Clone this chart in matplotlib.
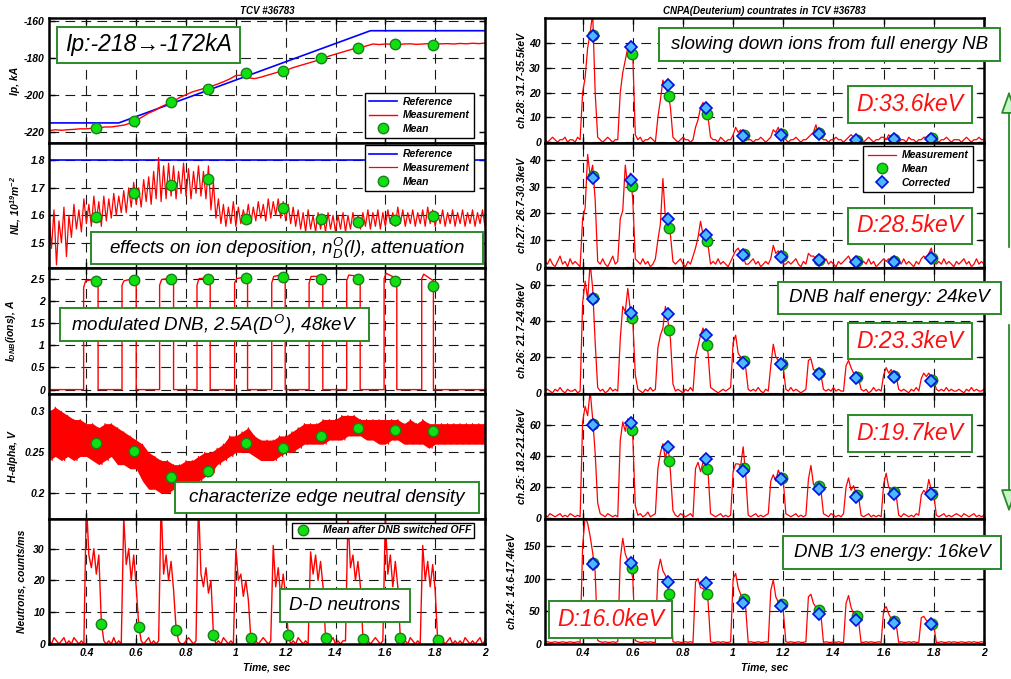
import numpy as np
import matplotlib
matplotlib.use('Agg')
import matplotlib.pyplot as plt
from matplotlib.patches import Rectangle, FancyArrowPatch
from matplotlib.ticker import FuncFormatter

plt.rcParams['font.family'] = ['Liberation Sans', 'DejaVu Sans']
plt.rcParams['font.weight'] = 'bold'
plt.rcParams['font.style'] = 'italic'
plt.rcParams['mathtext.fontset'] = 'custom'
plt.rcParams['mathtext.bf'] = 'Liberation Sans:style=italic:weight=bold'
plt.rcParams['mathtext.it'] = 'Liberation Sans:style=italic:weight=normal'
plt.rcParams['mathtext.rm'] = 'Liberation Sans:style=italic:weight=normal'
plt.rcParams['lines.scale_dashes'] = False
plt.rcParams['axes.unicode_minus'] = False

# ---------------- data ----------------
x_ticks = [0.4, 0.6, 0.8, 1.0, 1.2, 1.4, 1.6, 1.8, 2.0]
mean_t = [0.44, 0.59, 0.74, 0.89, 1.04, 1.19, 1.34, 1.49, 1.64, 1.79]
neut_mean_t = [0.46, 0.61, 0.76, 0.91, 1.06, 1.21, 1.36, 1.51, 1.66, 1.81]
cnpa_corr_t = [0.440, 0.592, 0.742, 0.892, 1.041, 1.190, 1.341, 1.490, 1.640, 1.789]
cnpa_mean_t = [0.443, 0.596, 0.745, 0.895, 1.044, 1.193, 1.344, 1.493, 1.643, 1.792]

# Ip
ip_ref_t = [0.25, 0.53, 1.54, 2.0]
ip_ref_v = [-215.3, -215.3, -165.3, -165.3]
ip_t = [0.25 + 0.025 * k for k in range(71)]
ip_meas = [-219.5, -219.0, -219.3, -219.0, -218.8, -218.5, -218.5, -218.2, -218.0, -217.5,
           -217.5, -217.0, -216.5, -215.5, -214.0, -212.0, -210.0, -208.5, -206.5, -205.0,
           -203.5, -201.5, -200.0, -198.5, -197.5, -196.5, -195.5, -194.3, -193.0, -191.5,
           -189.6, -189.4, -190.8, -191.3, -190.5, -189.5, -188.5, -187.5, -187.0, -185.5,
           -184.5, -183.5, -182.5, -181.5, -180.5, -179.0, -178.0, -177.0, -176.0, -175.0,
           -174.5, -173.5, -172.5, -172.8, -172.5, -172.6, -172.8, -172.5, -172.4, -172.7,
           -172.5, -172.3, -172.6, -172.4, -172.3, -172.5, -172.2, -172.4, -172.1, -172.3, -172.0]
ip_mean = [-218.0, -214.5, -204.2, -196.8, -188.0, -186.9, -180.3, -174.7, -172.7, -173.3]

# NL (line density): upper / lower excursions of the oscillating trace
nl_ref_t = [0.25, 2.0]
nl_ref_v = [1.8, 1.8]
nl_hi = [1.60, 1.62, 1.58, 1.63, 1.60, 1.64, 1.62, 1.66, 1.64, 1.67,
         1.65, 1.67, 1.66, 1.68, 1.67, 1.69, 1.70, 1.72, 1.70, 1.73,
         1.74, 1.76, 1.81, 1.78, 1.79, 1.78, 1.76, 1.79, 1.77, 1.76,
         1.78, 1.76, 1.78, 1.72, 1.66, 1.64, 1.63, 1.65, 1.63, 1.62,
         1.64, 1.63, 1.65, 1.64, 1.66, 1.65, 1.66, 1.65, 1.64, 1.63,
         1.62, 1.61, 1.62, 1.60, 1.61, 1.60, 1.61, 1.60, 1.60, 1.61,
         1.60, 1.61, 1.60, 1.61, 1.62, 1.61, 1.62, 1.61, 1.62, 1.61,
         1.63, 1.62, 1.61, 1.62, 1.61, 1.62, 1.63, 1.62, 1.61, 1.62,
         1.61, 1.62, 1.61, 1.62, 1.61, 1.62, 1.61, 1.62]
nl_lo = [1.48, 1.42, 1.50, 1.45, 1.52, 1.55, 1.54, 1.57, 1.56, 1.58,
         1.56, 1.58, 1.59, 1.60, 1.61, 1.61, 1.63, 1.64, 1.63, 1.65,
         1.64, 1.66, 1.65, 1.66, 1.67, 1.66, 1.68, 1.67, 1.66, 1.68,
         1.67, 1.66, 1.62, 1.59, 1.57, 1.56, 1.57, 1.56, 1.57, 1.58,
         1.57, 1.58, 1.59, 1.58, 1.59, 1.60, 1.59, 1.58, 1.57, 1.56,
         1.55, 1.54, 1.55, 1.54, 1.55, 1.54, 1.55, 1.54, 1.55, 1.54,
         1.55, 1.56, 1.55, 1.56, 1.55, 1.56, 1.55, 1.56, 1.57, 1.56,
         1.57, 1.56, 1.57, 1.56, 1.57, 1.56, 1.57, 1.56, 1.57, 1.56,
         1.57, 1.56, 1.57, 1.56, 1.57, 1.56, 1.57, 1.56]
nl_mean = [1.595, 1.683, 1.709, 1.734, 1.587, 1.626, 1.586, 1.575, 1.584, 1.597]

# DNB current
dnb_on = [0.389, 0.543, 0.694, 0.844, 0.995, 1.144, 1.294, 1.445, 1.595, 1.746]
dnb_off = [0.447, 0.600, 0.750, 0.897, 1.047, 1.198, 1.349, 1.499, 1.646, 1.793]
dnb_start = [2.30, 2.35, 2.35, 2.35, 2.40, 2.40, 2.40, 2.45, 2.50, 2.50]
dnb_mid = [2.45, 2.45, 2.48, 2.50, 2.50, 2.55, 2.55, 2.58, 2.62, 2.60]
dnb_end = [2.50, 2.52, 2.52, 2.52, 2.55, 2.60, 2.55, 2.55, 2.50, 2.45]
dnb_mean = [2.44, 2.46, 2.48, 2.50, 2.52, 2.54, 2.50, 2.50, 2.45, 2.33]

# H-alpha band (upper / lower edge of the noisy trace)
ha_t = [0.25 + 0.025 * k for k in range(71)]
ha_hi = [0.300, 0.305, 0.300, 0.295, 0.290, 0.290, 0.285, 0.285, 0.280, 0.285,
         0.285, 0.280, 0.275, 0.270, 0.265, 0.260, 0.250, 0.245, 0.240, 0.240,
         0.235, 0.235, 0.240, 0.240, 0.245, 0.250, 0.250, 0.255, 0.260, 0.270,
         0.270, 0.275, 0.280, 0.270, 0.265, 0.265, 0.265, 0.270, 0.270, 0.275,
         0.280, 0.285, 0.285, 0.285, 0.290, 0.290, 0.290, 0.295, 0.295, 0.295,
         0.290, 0.290, 0.290, 0.290, 0.290, 0.290, 0.290, 0.285, 0.290, 0.285,
         0.290, 0.285, 0.285, 0.285, 0.285, 0.285, 0.285, 0.285, 0.285, 0.285, 0.285]
ha_lo = [0.240, 0.245, 0.240, 0.245, 0.240, 0.245, 0.245, 0.240, 0.235, 0.240,
         0.245, 0.235, 0.235, 0.230, 0.230, 0.215, 0.205, 0.205, 0.200, 0.200,
         0.205, 0.205, 0.210, 0.215, 0.215, 0.220, 0.225, 0.235, 0.240, 0.245,
         0.250, 0.250, 0.250, 0.245, 0.240, 0.240, 0.240, 0.245, 0.250, 0.250,
         0.255, 0.260, 0.260, 0.260, 0.260, 0.265, 0.265, 0.265, 0.270, 0.270,
         0.270, 0.265, 0.265, 0.260, 0.260, 0.265, 0.265, 0.260, 0.260, 0.260,
         0.260, 0.255, 0.260, 0.260, 0.260, 0.260, 0.260, 0.260, 0.260, 0.260, 0.260]
ha_mean = [0.2615, 0.252, 0.2204, 0.2268, 0.261, 0.2554, 0.270, 0.2793, 0.2773, 0.2756]

# sampled traces on a 10 ms grid, 0.25 .. 2.00 s
neut = [1, 0, 2, 1, 0, 1, 2, 0, 1, 0, 2, 1, 0, 1, 0,
        45, 28, 24, 30, 22, 28, 7, 1, 0, 1, 0, 2, 0, 1, 0,
        40, 25, 30, 20, 28, 18, 6, 1, 0, 1, 2, 0, 1, 0, 1,
        45, 22, 28, 20, 26, 17, 5, 1, 0, 0, 1, 2, 1, 0, 1,
        45, 22, 18, 24, 16, 20, 3, 0, 1, 0, 2, 1, 0, 1, 0,
        30, 20, 22, 15, 20, 14, 2, 0, 1, 0, 1, 2, 1, 0, 1,
        31, 18, 24, 15, 22, 15, 3, 0, 1, 0, 2, 1, 0, 1, 0,
        29, 22, 28, 20, 26, 18, 2, 0, 1, 2, 0, 1, 0, 1, 1,
        40, 24, 28, 20, 26, 18, 2, 0, 1, 0, 1, 2, 1, 0, 1,
        40, 22, 28, 18, 26, 18, 2, 0, 1, 0, 2, 1, 0, 1, 0,
        31, 20, 26, 18, 25, 17, 1, 0, 1, 0, 1, 2, 0, 1, 0,
        1, 0, 2, 1, 0, 1, 0, 1, 2, 0, 1]
neut_mean = [6.2, 5.5, 4.5, 2.9, 1.9, 2.8, 1.9, 1.6, 1.9, 1.2]

ch28 = [1, 0, 1, 2, 1, 0, 1, 1, 2, 0, 1, 1, 0, 2, 1,
        20, 26, 38, 44, 52, 20, 2, 1, 0, 1, 2, 1, 0, 1, 1,
        20, 28, 33, 38, 40, 35, 3, 1, 2, 0, 1, 1, 2, 1, 0,
        10, 17, 25, 22, 20, 14, 2, 1, 0, 1, 2, 1, 1, 0, 1,
        6, 9, 14, 16, 12, 10, 2, 1, 1, 0, 2, 1, 0, 1, 1,
        3, 6, 4, 5, 3, 2, 1, 1, 0, 1, 1, 2, 1, 0, 1,
        2, 5, 4, 6, 3, 2, 1, 0, 1, 1, 2, 1, 0, 1, 1,
        2, 3, 4, 7, 3, 2, 1, 1, 0, 1, 1, 2, 1, 1, 0,
        1, 2, 3, 2, 1, 1, 1, 0, 1, 2, 1, 0, 1, 1, 2,
        2, 1, 3, 2, 1, 1, 0, 1, 1, 0, 2, 1, 1, 0, 1,
        1, 2, 2, 3, 2, 1, 1, 0, 1, 1, 2, 1, 0, 1, 1,
        1, 0, 1, 2, 1, 0, 1, 1, 2, 1, 1]
ch27 = [2, 1, 3, 1, 0, 2, 4, 1, 2, 0, 3, 1, 2, 1, 0,
        18, 22, 42, 34, 38, 25, 2, 1, 3, 1, 0, 2, 4, 1, 2,
        18, 21, 38, 30, 35, 25, 3, 2, 1, 3, 1, 2, 0, 1, 3,
        10, 16, 33, 18, 16, 12, 2, 1, 2, 3, 1, 0, 2, 1, 4,
        7, 11, 17, 12, 11, 8, 1, 2, 1, 3, 1, 2, 1, 0, 2,
        4, 6, 7, 5, 4, 1, 1, 2, 3, 1, 2, 0, 1, 2, 1,
        3, 8, 5, 6, 4, 1, 1, 2, 1, 2, 3, 1, 0, 2, 1,
        5, 4, 4, 3, 2, 1, 2, 3, 1, 2, 1, 0, 2, 1, 2,
        3, 4, 2, 3, 2, 1, 1, 2, 1, 3, 1, 2, 0, 1, 2,
        3, 2, 3, 2, 2, 1, 2, 1, 3, 1, 2, 1, 0, 2, 1,
        3, 4, 3, 5, 7, 2, 1, 2, 1, 3, 1, 2, 1, 0, 2,
        1, 2, 3, 1, 2, 0, 1, 3, 1, 2, 1]
ch26 = [1, 2, 1, 0, 2, 1, 3, 1, 0, 2, 1, 1, 2, 0, 1,
        50, 62, 52, 72, 58, 28, 3, 1, 2, 0, 1, 3, 1, 2, 1,
        30, 48, 45, 58, 46, 40, 10, 2, 1, 0, 2, 1, 3, 1, 2,
        25, 32, 36, 48, 40, 30, 5, 1, 2, 1, 0, 2, 1, 3, 1,
        20, 26, 32, 36, 30, 22, 3, 2, 1, 0, 1, 2, 1, 2, 3,
        28, 32, 22, 20, 18, 14, 2, 1, 2, 1, 3, 1, 0, 2, 1,
        15, 27, 20, 18, 16, 14, 2, 1, 3, 1, 2, 1, 0, 1, 2,
        18, 19, 13, 12, 11, 10, 2, 1, 2, 1, 3, 1, 2, 1, 1,
        15, 18, 14, 11, 9, 8, 2, 1, 2, 0, 1, 3, 1, 2, 1,
        10, 14, 11, 13, 10, 9, 2, 1, 2, 1, 0, 2, 1, 3, 1,
        8, 11, 9, 11, 8, 7, 2, 1, 2, 1, 3, 1, 2, 1, 1,
        2, 1, 0, 2, 1, 3, 1, 2, 1, 1, 2]
ch25 = [2, 1, 3, 2, 1, 2, 3, 1, 2, 1, 3, 2, 1, 2, 1,
        62, 72, 66, 82, 64, 42, 10, 3, 2, 1, 3, 2, 1, 2, 1,
        50, 62, 56, 64, 58, 52, 8, 2, 3, 1, 2, 4, 1, 2, 3,
        32, 42, 48, 38, 48, 30, 5, 2, 1, 3, 2, 1, 2, 3, 1,
        32, 36, 30, 36, 34, 30, 3, 2, 1, 2, 3, 1, 2, 1, 2,
        30, 35, 35, 34, 46, 28, 2, 1, 2, 3, 1, 2, 1, 2, 3,
        24, 28, 24, 31, 27, 24, 3, 2, 1, 2, 3, 1, 2, 1, 2,
        25, 34, 22, 21, 20, 18, 3, 2, 1, 3, 2, 1, 2, 1, 3,
        20, 26, 18, 21, 16, 14, 2, 1, 2, 3, 1, 2, 1, 2, 1,
        22, 29, 20, 18, 17, 15, 2, 1, 3, 2, 1, 2, 1, 3, 2,
        15, 18, 16, 25, 18, 15, 2, 1, 2, 3, 1, 2, 1, 2, 3,
        2, 1, 3, 2, 1, 2, 3, 1, 2, 1, 2]
ch24 = [2, 3, 2, 2, 3, 2, 2, 3, 2, 2, 3, 2, 2, 3, 2,
        150, 195, 185, 165, 140, 110, 5, 3, 2, 3, 2, 2, 3, 2, 3,
        130, 162, 138, 128, 120, 100, 5, 3, 2, 2, 3, 2, 3, 2, 2,
        112, 130, 112, 105, 95, 70, 3, 2, 3, 2, 2, 3, 2, 3, 2,
        95, 100, 86, 85, 80, 65, 3, 2, 2, 3, 2, 3, 2, 2, 3,
        100, 108, 86, 76, 68, 55, 2, 3, 2, 2, 3, 2, 2, 3, 2,
        82, 98, 72, 64, 58, 50, 3, 2, 3, 2, 2, 3, 2, 2, 3,
        72, 76, 62, 56, 50, 44, 2, 3, 2, 2, 3, 2, 3, 2, 2,
        62, 74, 56, 46, 40, 35, 2, 2, 3, 2, 3, 2, 2, 3, 2,
        52, 57, 46, 38, 33, 30, 2, 3, 2, 2, 3, 2, 3, 2, 2,
        40, 42, 36, 33, 30, 28, 2, 2, 3, 2, 2, 3, 2, 3, 2,
        2, 3, 2, 2, 3, 2, 3, 2, 2, 3, 2]

ch28_mean = [43.2, 35.6, 18.5, 11.4, 2.9, 3.2, 3.6, 0.9, 1.3, 1.6]
ch28_corr = [42.9, 38.4, 23.0, 13.7, 2.4, 2.9, 3.2, 0.7, 1.1, 1.3]
ch27_mean = [34.1, 30.2, 14.4, 9.8, 4.6, 4.0, 2.7, 2.1, 2.1, 3.4]
ch27_corr = [33.3, 32.4, 17.8, 12.0, 4.4, 3.8, 2.4, 1.8, 1.8, 3.2]
ch26_mean = [52.5, 41.7, 35.1, 26.4, 17.8, 16.3, 11.0, 9.0, 9.5, 6.9]
ch26_corr = [52.0, 44.5, 43.9, 32.3, 16.4, 15.9, 10.3, 8.4, 9.0, 6.5]
ch25_mean = [60.6, 56.6, 36.7, 31.6, 32.4, 25.7, 20.6, 14.8, 16.7, 15.9]
ch25_corr = [60.0, 61.1, 45.8, 38.2, 30.3, 25.0, 18.7, 13.4, 15.5, 15.9]
ch24_mean = [123.9, 115.7, 76.8, 76.8, 68.1, 60.4, 51.2, 42.0, 34.8, 30.7]
ch24_corr = [121.9, 124.4, 95.2, 93.7, 63.0, 58.4, 46.1, 36.4, 32.3, 29.7]

# ---------------- figure ----------------
W, H = 1011, 679
fig = plt.figure(figsize=(W / 100, H / 100), dpi=100)
TOP, ROWH = 18, 125.2
RED = '#ff0000'
GFACE, GEDGE = '#10e010', '#1a7f1a'
BFACE, BEDGE = '#4db8ff', '#0010e0'
BOXG = '#2a8a2a'
fmt = FuncFormatter(lambda v, p: f'{v:g}')
t_grid = np.round(0.25 + 0.01 * np.arange(176), 2)
LAB = dict(fontsize=7.5, fontweight='bold', fontstyle='italic')


def make_ax(x0, w, row):
    y_top = TOP + row * ROWH
    return fig.add_axes([x0 / W, 1 - (y_top + ROWH) / H, w / W, ROWH / H])


def style(ax, ylim, yticks, bottom=False):
    ax.set_xlim(0.25, 2.0)
    ax.set_ylim(*ylim)
    ax.set_xticks(x_ticks)
    ax.set_yticks(yticks)
    ax.xaxis.set_major_formatter(fmt)
    ax.yaxis.set_major_formatter(fmt)
    ax.grid(True, color='0.1', lw=0.8, ls=(0, (7, 4.5)))
    ax.set_axisbelow(True)
    ax.tick_params(direction='in', length=4, width=1, top=True, right=True,
                   labelsize=7.5, labelbottom=bottom, pad=3)
    for lbl in ax.get_xticklabels() + ax.get_yticklabels():
        lbl.set_fontweight('bold')
        lbl.set_fontstyle('italic')
    for s in ax.spines.values():
        s.set_linewidth(1.8)
        s.set_zorder(5)


def means(ax, t, v, **kw):
    ax.plot(t, v, 'o', ms=7.5, mfc=GFACE, mec=GEDGE, mew=1.0, zorder=4, **kw)


def corr(ax, t, v, **kw):
    ax.plot(t, v, 'D', ms=6, mfc=BFACE, mec=BEDGE, mew=1.2, zorder=4.5, **kw)


def legend(ax, **kw):
    opts = dict(fontsize=7.5, frameon=True, fancybox=False, edgecolor='black', framealpha=1,
                borderaxespad=0, handlelength=2.7, handletextpad=0.6, labelspacing=0.35,
                borderpad=0.4, prop=dict(size=7.5, weight='bold', style='italic'))
    opts.update(kw)
    opts.pop('fontsize')
    leg = ax.legend(**opts)
    leg.get_frame().set_linewidth(1.0)
    return leg


LX, LW = 49, 436
RX, RW = 545, 439

# --- left 1: Ip
ax = make_ax(LX, LW, 0)
ax.plot(ip_ref_t, ip_ref_v, color='blue', lw=1.2, label='Reference')
ax.plot(ip_t, ip_meas, color=RED, lw=1.0, label='Measurement')
means(ax, mean_t, ip_mean, label='Mean')
style(ax, (-226.3, -158.4), [-220, -200, -180, -160])
ax.set_ylabel('Ip, kA', **LAB)
ax.yaxis.set_label_coords(-0.0665, 0.5)
ax.set_title('TCV #36783', fontsize=7, fontweight='bold', fontstyle='italic', pad=3)
legend(ax, loc='lower right', bbox_to_anchor=(0.975, 0.04))

# --- left 2: NL
ax = make_ax(LX, LW, 1)
nl_t = np.empty(2 * len(nl_hi))
nl_v = np.empty(2 * len(nl_hi))
nl_t[0::2] = [0.25 + 0.02 * k for k in range(len(nl_hi))]
nl_t[1::2] = [0.26 + 0.02 * k for k in range(len(nl_lo))]
nl_v[0::2] = nl_hi
nl_v[1::2] = nl_lo
ax.plot(nl_ref_t, nl_ref_v, color='blue', lw=1.2, label='Reference')
ax.plot(nl_t, nl_v, color=RED, lw=0.9, label='Measurement')
means(ax, mean_t, nl_mean, label='Mean')
style(ax, (1.407, 1.8625), [1.5, 1.6, 1.7, 1.8])
ax.set_ylabel('NL, $\\mathbf{10^{19}m^{-2}}$', **LAB)
ax.yaxis.set_label_coords(-0.060, 0.5)
legend(ax, loc='upper right', bbox_to_anchor=(0.975, 0.984))

# --- left 3: DNB
ax = make_ax(LX, LW, 2)
dnb_t, dnb_v = [0.25], [0.0]
for on, off, s0, s1, s2 in zip(dnb_on, dnb_off, dnb_start, dnb_mid, dnb_end):
    dnb_t += [on, on, on + 0.008, off, off]
    dnb_v += [0.0, s0, s1, s2, 0.0]
dnb_t.append(2.0)
dnb_v.append(0.0)
ax.plot(dnb_t, dnb_v, color=RED, lw=1.0)
means(ax, mean_t, dnb_mean)
style(ax, (-0.09, 2.73), [0, 0.5, 1, 1.5, 2, 2.5])
ax.set_ylabel('$\\mathbf{I_{DNB}}$(ions), A', **LAB)
ax.yaxis.set_label_coords(-0.071, 0.5)

# --- left 4: H-alpha
ax = make_ax(LX, LW, 3)
ha_zt = np.empty(2 * len(ha_t))
ha_zv = np.empty(2 * len(ha_t))
ha_zt[0::2] = ha_t
ha_zt[1::2] = [t + 0.0125 for t in ha_t]
ha_zv[0::2] = ha_hi
ha_zv[1::2] = ha_lo
ax.fill_between(ha_t, ha_lo, ha_hi, color=RED, lw=0)
ax.plot(ha_zt, ha_zv, color=RED, lw=0.8)
means(ax, mean_t, ha_mean)
style(ax, (0.169, 0.3216), [0.2, 0.25, 0.3])
ax.set_ylabel('H-alpha, V', **LAB)
ax.yaxis.set_label_coords(-0.071, 0.5)

# --- left 5: neutrons
ax = make_ax(LX, LW, 4)
ax.plot(t_grid, neut, color=RED, lw=1.0)
means(ax, neut_mean_t, neut_mean, label='Mean after DNB switched OFF')
style(ax, (0, 39.4), [0, 10, 20, 30], bottom=True)
ax.set_ylabel('Neutrons, counts/ms', **LAB)
ax.yaxis.set_label_coords(-0.051, 0.5)
ax.set_xlabel('Time, sec', labelpad=3, **LAB)
legend(ax, loc='upper right', bbox_to_anchor=(0.975, 0.968), handlelength=1.5,
       handletextpad=1.2, borderpad=0.25)

# --- right panels
chans = [
    (ch28, ch28_mean, ch28_corr, (-0.4, 50), [0, 10, 20, 30, 40], 'ch.28: 31.7-35.5keV', -0.042),
    (ch27, ch27_mean, ch27_corr, (-0.6, 46.2), [0, 10, 20, 30, 40], 'ch.27: 26.7-30.3keV', -0.042),
    (ch26, ch26_mean, ch26_corr, (-0.4, 69.1), [0, 20, 40, 60], 'ch.26: 21.7-24.9keV', -0.042),
    (ch25, ch25_mean, ch25_corr, (-0.3, 80.2), [0, 20, 40, 60], 'ch.25: 18.2-21.2keV', -0.042),
    (ch24, ch24_mean, ch24_corr, (-0.5, 192), [0, 50, 100, 150], 'ch.24: 14.6-17.4keV', -0.064),
]
for row, (ch, cm, cc, yl, yt, lab, lx) in enumerate(chans):
    ax = make_ax(RX, RW, row)
    ax.plot(t_grid, ch, color=RED, lw=0.9, label='Measurement')
    means(ax, cnpa_mean_t, cm, label='Mean')
    corr(ax, cnpa_corr_t, cc, label='Corrected')
    style(ax, yl, yt, bottom=(row == 4))
    ax.set_ylabel(lab, **LAB)
    ax.yaxis.set_label_coords(lx, 0.5)
    if row == 0:
        ax.set_title('CNPA(Deuterium) countrates in TCV #36783', fontsize=7,
                     fontweight='bold', fontstyle='italic', pad=3)
    if row == 1:
        legend(ax, loc='upper right', bbox_to_anchor=(0.975, 0.976))
    if row == 4:
        ax.set_xlabel('Time, sec', labelpad=3, **LAB)


# --- annotation boxes (pixel coordinates of the figure)
def box(x0, y0, x1, y1, text, color='black', size=13.5):
    fig.add_artist(Rectangle((x0 / W, 1 - y1 / H), (x1 - x0) / W, (y1 - y0) / H,
                             transform=fig.transFigure, fc='white', ec=BOXG, lw=1.4, zorder=10))
    fig.text((x0 + x1) / 2 / W, 1 - (y0 + y1) / 2 / H, text, ha='center', va='center',
             color=color, fontsize=size, fontweight='normal', fontstyle='italic', zorder=11)


box(57, 27, 240, 63, 'Ip:-218\u2192-172kA', size=16.5)
box(91, 232, 483, 264, 'effects on ion deposition, $n_D^O$(l), attenuation')
box(60, 308, 369, 341, 'modulated DNB, 2.5A($D^O$), 48keV')
box(175, 482, 479, 513, 'characterize edge neutral density')
box(280, 589, 410, 622, 'D-D neutrons')
box(659, 28, 1000, 61, 'slowing down ions from full energy NB')
box(848, 86, 972, 123, 'D:33.6keV', color='#ff1010', size=16.5)
box(848, 208, 972, 244, 'D:28.5keV', color='#ff1010', size=16.5)
box(778, 282, 1001, 314, 'DNB half energy: 24keV')
box(848, 323, 972, 359, 'D:23.3keV', color='#ff1010', size=16.5)
box(848, 415, 972, 452, 'D:19.7keV', color='#ff1010', size=16.5)
box(783, 536, 1001, 569, 'DNB 1/3 energy: 16keV')
box(549, 601, 672, 638, 'D:16.0keV', color='#ff1010', size=16.5)

# --- green arrows at right edge
for (ya, yb) in [(250, 88), (322, 515)]:
    arr = FancyArrowPatch((1009 / W, 1 - ya / H), (1009 / W, 1 - yb / H),
                          transform=fig.transFigure, arrowstyle='-|>,head_width=5,head_length=14',
                          color=BOXG, fc='#c8f5c8', lw=1.3, zorder=12)
    fig.add_artist(arr)

fig.savefig('out.png', dpi=100)
